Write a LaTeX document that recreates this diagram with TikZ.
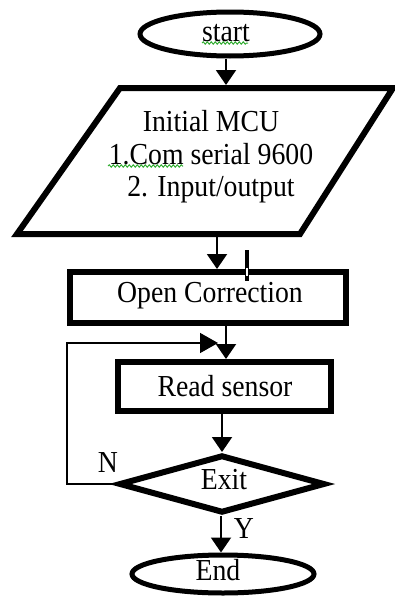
\documentclass[tikz,border=0pt]{standalone}
\usepackage{fontspec}
\setmainfont{Liberation Serif}[FakeStretch=0.91]
\usetikzlibrary{shapes.geometric,arrows.meta,decorations.pathmorphing}
\begin{document}
\begin{tikzpicture}[x=1pt,y=-1pt,
  txt/.style={font=\fontsize{30.5}{32.5}\selectfont, text=black},
  term/.style={ellipse, draw, line width=5pt, inner sep=0pt, minimum width=180pt, minimum height=44pt, txt},
  procbox/.style={rectangle, draw, line width=6pt, inner sep=0pt, txt},
  decis/.style={diamond, draw, line width=6pt, inner sep=0pt, minimum width=206pt, minimum height=58pt, txt},
  arr/.style={line width=2pt, -{Triangle[width=20pt,length=15pt]}},
  loopline/.style={line width=1.5pt, -{Triangle[width=20pt,length=18pt]}},
  squig/.style={draw=green!60!black!80, line width=1pt, decorate, decoration={snake, amplitude=1.2pt, segment length=4pt}}
]
\useasboundingbox (0,0) rectangle (395,597);

% start
\node[term] (start) at (230,34) {};
\node[txt] (startlbl) at (226,33) {start};
\draw[squig] (202,43) -- (248,43);

% parallelogram (input/output)
\coordinate (ptl) at (120,88);
\coordinate (ptr) at (393,88);
\coordinate (pbr) at (300,234);
\coordinate (pbl) at (17,234);
\draw[line width=6pt, line join=miter] (ptl) -- (ptr) -- (pbr) -- (pbl) -- cycle;
\node[txt, align=center] (init) at (211,157) {Initial MCU\\1.Com serial 9600\\2. Input/output};
\draw[squig] (108,166) -- (183,166);
\coordinate (ptop) at (226,85);
\coordinate (pbot) at (217,237);

% process boxes
\node[procbox, minimum width=276pt, minimum height=51pt] (open) at (208,297.5) {};
\node[txt] (openlbl) at (210,296) {Open Correction};
\node[procbox, minimum width=213pt, minimum height=49pt] (read) at (224.5,386.5) {};
\node[txt] (readlbl) at (225,386) {Read sensor};

% decision
\node[decis] (exit) at (222,484) {};
\node[txt] (exitlbl) at (224,480) {Exit};

% end
\node[term, minimum width=182pt, minimum height=38pt] (end) at (223,574) {};
\node[txt] (endlbl) at (218,570) {End};

% connectors
\coordinate (c1) at (226,0);
\coordinate (c2) at (221,0);
\draw[arr] (start.south -| ptop) -- (ptop);
\draw[arr] (pbot) -- (pbot |- open.north);
\draw[arr] (open.south -| c1) -- (read.north -| c1);
\draw[arr] (read.south -| exit.north) -- (exit.north);
\draw[arr] (exit.south -| c2) -- (end.north -| c2);

% loop back
\coordinate (lx) at (67,343);
\coordinate (lj) at (218,343);
\draw[loopline] (exit.west) -| (lx) -- (lj);

% labels
\node[txt] (nlbl) at (108,463) {N};
\node[txt] (ylbl) at (244,529) {Y};

% stray cursor mark
\coordinate (cur1) at (247,250);
\coordinate (cur2) at (247,281);
\draw[line width=3.5pt] (cur1) -- (cur2);
\draw[white, line width=1.3pt] (247,268) -- (247,275.5);
\end{tikzpicture}
\end{document}
